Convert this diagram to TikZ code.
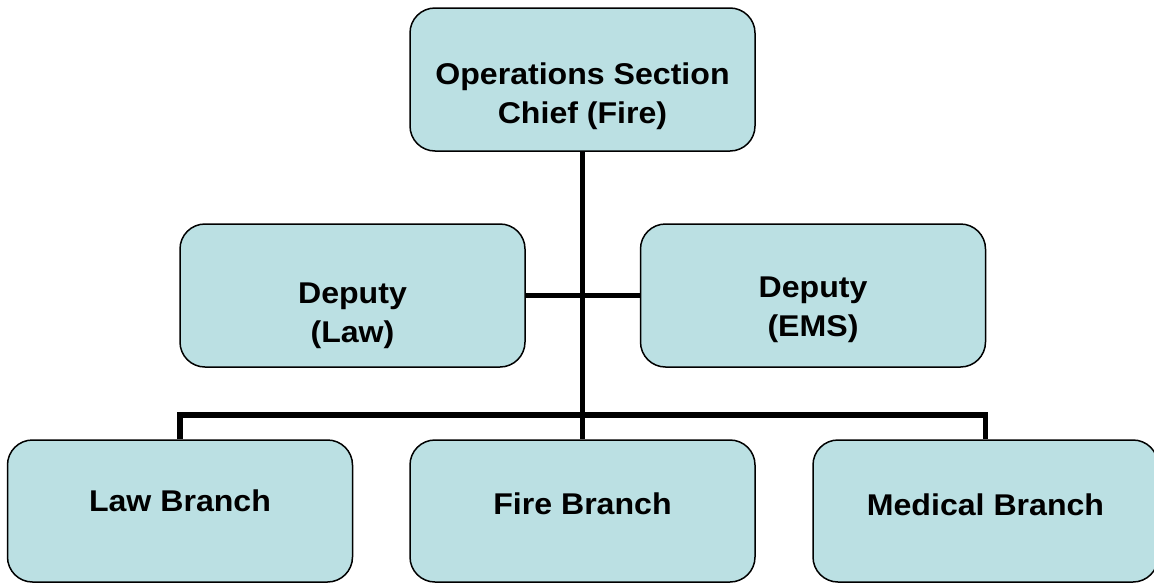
\documentclass[tikz,border=0pt]{standalone}
\usepackage{fontspec}
\setmainfont{Liberation Sans}[FakeStretch=1.07]
\usepackage{tikz}
\usetikzlibrary{calc}
\definecolor{box_blue}{RGB}{187, 224, 227}
\tikzstyle{unit}=[rectangle,rounded corners=25pt,fill=box_blue,draw=black,
  line width=1.5pt,inner sep=0pt,minimum width=345pt,minimum height=143pt]
\tikzstyle{caption}=[align=center,inner sep=0pt,font=\fontsize{30}{39}\selectfont\bfseries]
\tikzstyle{link}=[line width=5.5pt]
\tikzstyle{none}=[inner sep=0pt,minimum size=0pt]

\begin{document}
\begin{tikzpicture}[x=1pt,y=-1pt]
		\useasboundingbox (0, 0) rectangle (1154, 584);
		\node [style=unit, label={[style=caption, yshift=-17pt]center:Operations Section\\Chief (Fire)}] (0) at (582.5, 79.5) {};
		\node [style=unit, label={[style=caption, yshift=-20pt]center:Deputy\\(Law)}] (1) at (352.5, 295.5) {};
		\node [style=unit, label={[style=caption, yshift=-14pt]center:Deputy\\(EMS)}] (2) at (813, 295.5) {};
		\node [style=unit, minimum height=142pt, label={[style=caption, yshift=10pt]center:Law Branch}] (3) at (180, 511) {};
		\node [style=unit, minimum height=142pt, label={[style=caption, yshift=7pt]center:Fire Branch}] (4) at (582.5, 511) {};
		\node [style=unit, minimum height=142pt, label={[style=caption, yshift=6pt]center:Medical Branch}] (5) at (985.5, 511) {};
		\node [style=none] (9) at (985.5, 415) {};
		\draw [style=link] (0) to (4);
		\draw [style=link] (1) to (2);
		\draw [style=link] (3.north) |- (9.center) to (5.north);
\end{tikzpicture}
\end{document}
